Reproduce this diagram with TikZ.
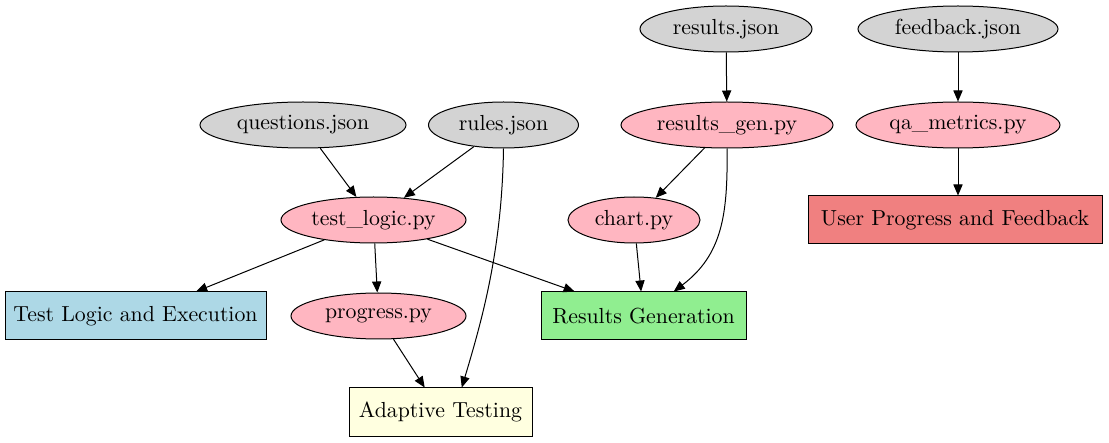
\documentclass[tikz,border=0pt]{standalone}
\usetikzlibrary{shapes.geometric,arrows.meta}
\definecolor{gvgray}{HTML}{D3D3D3}
\definecolor{gvpink}{HTML}{FFB6C1}
\definecolor{gvblue}{HTML}{ADD8E6}
\definecolor{gvgreen}{HTML}{90EE90}
\definecolor{gvyellow}{HTML}{FFFFE0}
\definecolor{gvcoral}{HTML}{F08080}
\tikzset{
	datafile/.style={ellipse,draw,fill=gvgray,line width=0.5pt,inner sep=0pt,minimum height=23pt},
	script/.style={ellipse,draw,fill=gvpink,line width=0.5pt,inner sep=0pt,minimum height=23pt},
	module/.style={rectangle,draw,line width=0.5pt,inner sep=0pt,minimum height=24pt},
	link/.style={line width=0.5pt,-{Triangle[length=5.5pt,width=4.6pt]}}
}
\begin{document}
\begin{tikzpicture}[x=0.5pt,y=-0.5pt,font=\fontsize{10.9}{12}\selectfont]
			\useasboundingbox (0,0) rectangle (1109,443);
			% data files
			\node [datafile,minimum width=86pt] (resultsjson) at (726,29) {results.json};
			\node [datafile,minimum width=100pt] (feedbackjson) at (958,29) {feedback.json};
			\node [datafile,minimum width=103pt] (questionsjson) at (303,125) {questions.json};
			\node [datafile,minimum width=75pt] (rulesjson) at (503.5,125) {rules.json};
			% scripts
			\node [script,minimum width=106pt] (resultsgen) at (727,125) {results\_gen.py};
			\node [script,minimum width=102pt] (qametrics) at (958,125) {qa\_metrics.py};
			\node [script,minimum width=92.5pt] (testlogic) at (373.5,220) {test\_logic.py};
			\node [script,minimum width=66pt] (chart) at (634,220) {chart.py};
			\node [script,minimum width=87.5pt] (progress) at (378.5,316) {progress.py};
			% modules
			\node [module,fill=gvcoral,minimum width=147pt] (userprogress) at (955,220) {User Progress and Feedback};
			\node [module,fill=gvblue,minimum width=130.5pt] (testexec) at (135.5,316) {Test Logic and Execution};
			\node [module,fill=gvgreen,minimum width=102.5pt] (resultsgeneration) at (643.5,316) {Results Generation};
			\node [module,fill=gvyellow,minimum width=91.5pt] (adaptive) at (440.5,412) {Adaptive Testing};
			% edges
			\draw [link] (resultsjson) -- (resultsgen);
			\draw [link] (feedbackjson) -- (qametrics);
			\draw [link] (qametrics) -- (qametrics |- userprogress.north);
			\draw [link] (questionsjson) -- (testlogic);
			\draw [link] (rulesjson) -- (testlogic);
			\draw [link] (rulesjson.south) .. controls (502,250) and (482,320) .. (adaptive.49);
			\draw [link] (resultsgen) -- (chart);
			\draw [link] (resultsgen.south) .. controls (728,215) and (722,255) .. (resultsgeneration.39);
			\draw [link] (testlogic) -- (testexec);
			\draw [link] (testlogic) -- (progress);
			\draw [link] (testlogic) -- (resultsgeneration);
			\draw [link] (chart) -- (resultsgeneration);
			\draw [link] (progress) -- (adaptive);
		\end{tikzpicture}
\end{document}
